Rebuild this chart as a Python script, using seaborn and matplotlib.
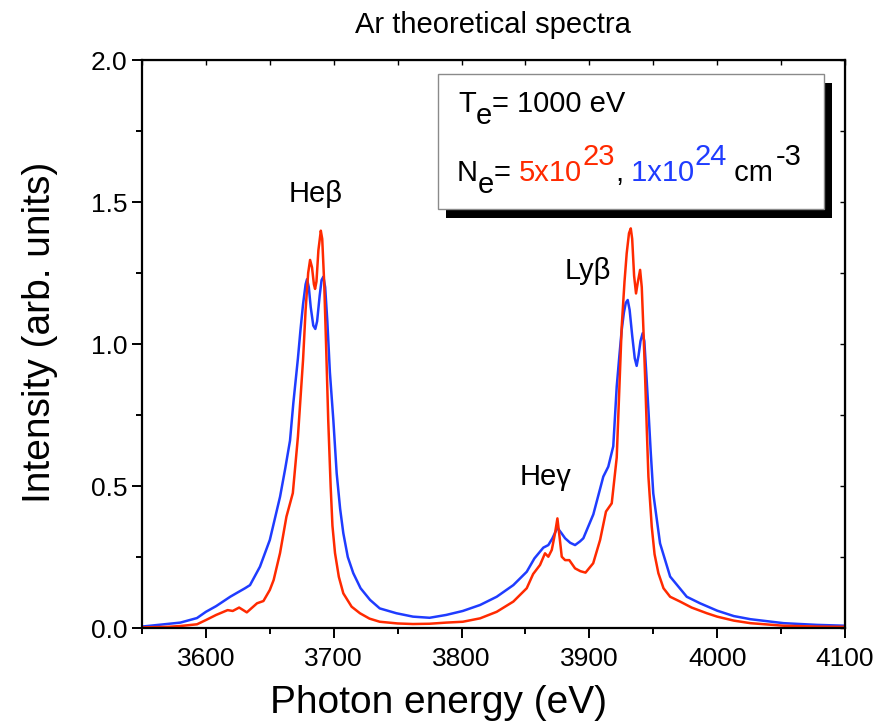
import numpy as np
import pandas as pd
import matplotlib
matplotlib.use('Agg')
import matplotlib.pyplot as plt
from matplotlib.patches import Rectangle
from matplotlib.ticker import MultipleLocator, FormatStrFormatter
import seaborn as sns

# spectrum for Ne = 5x10^23 cm^-3 (red)
energy_5e23 = [3550, 3570, 3580, 3593, 3600, 3608, 3617, 3621, 3626, 3632, 3640, 3645,
               3650, 3653, 3658, 3663, 3668, 3672, 3676, 3678, 3680, 3681.5, 3683,
               3684.5, 3685.4, 3686.5, 3688, 3689.9, 3691, 3692.5, 3694, 3695.7, 3697.6,
               3699, 3701, 3704, 3707.5, 3714, 3720.5, 3728, 3736, 3750, 3762, 3775,
               3788, 3801, 3814.5, 3827.5, 3840.5, 3851, 3856, 3861.4, 3865.3, 3867.9,
               3870.6, 3873, 3875, 3876.7, 3878.4, 3881, 3884.3, 3888.8, 3893, 3897,
               3903, 3908.4, 3913, 3917.5, 3921.4, 3925.3, 3927.5, 3929.2, 3931, 3932.4,
               3933.5, 3935, 3936.5, 3938, 3939.7, 3941, 3942.3, 3943.6, 3945, 3946.2,
               3948.8, 3951, 3954, 3958, 3963.2, 3971, 3980, 3991.9, 4000, 4013, 4026,
               4052, 4078, 4100]
intensity_5e23 = [0.002, 0.004, 0.007, 0.013, 0.028, 0.046, 0.063, 0.060, 0.072, 0.055,
                  0.087, 0.095, 0.134, 0.169, 0.264, 0.392, 0.475, 0.674, 0.944, 1.12,
                  1.25, 1.296, 1.27, 1.21, 1.194, 1.22, 1.33, 1.399, 1.37, 1.22, 1.00,
                  0.732, 0.498, 0.36, 0.264, 0.18, 0.122, 0.075, 0.052, 0.033, 0.022,
                  0.016, 0.014, 0.015, 0.019, 0.022, 0.034, 0.057, 0.093, 0.14, 0.19,
                  0.222, 0.263, 0.251, 0.275, 0.33, 0.386, 0.32, 0.251, 0.239, 0.239,
                  0.21, 0.200, 0.195, 0.228, 0.31, 0.41, 0.439, 0.60, 1.061, 1.22, 1.319,
                  1.39, 1.407, 1.37, 1.24, 1.178, 1.22, 1.261, 1.20, 1.05, 0.885, 0.69,
                  0.533, 0.357, 0.26, 0.193, 0.14, 0.11, 0.093, 0.072, 0.052, 0.04,
                  0.026, 0.017, 0.008, 0.005, 0.004]

# spectrum for Ne = 1x10^24 cm^-3 (blue)
energy_1e24 = [3550, 3565, 3580, 3593, 3600, 3608, 3619, 3624, 3630.6, 3634.5, 3642.3,
               3650, 3658, 3662, 3665.8, 3668.4, 3672, 3674, 3676, 3678, 3679.1, 3680.5,
               3682, 3684, 3685.6, 3687, 3689, 3690.5, 3691.9, 3693.3, 3695, 3697,
               3699.7, 3702.3, 3705, 3707.5, 3711, 3715.3, 3721, 3728.4, 3736, 3749,
               3762, 3775, 3788, 3801, 3814.5, 3827.5, 3840.5, 3851, 3857, 3864, 3867.9,
               3871, 3875, 3878, 3881, 3885, 3888.8, 3892.7, 3895.3, 3903.1, 3910.9,
               3914.8, 3918.7, 3921.4, 3923.5, 3925.3, 3927, 3928.5, 3930, 3931.5,
               3933.5, 3935.5, 3937, 3938.5, 3940, 3941.7, 3943, 3944.5, 3946.2, 3948,
               3950, 3955.3, 3963.2, 3976.2, 3986.6, 4000, 4013, 4026, 4052, 4078, 4100]
intensity_1e24 = [0.005, 0.012, 0.019, 0.035, 0.057, 0.077, 0.110, 0.123, 0.140, 0.151,
                  0.216, 0.31, 0.462, 0.56, 0.66, 0.792, 0.95, 1.05, 1.14, 1.21, 1.228,
                  1.20, 1.13, 1.065, 1.053, 1.08, 1.17, 1.225, 1.237, 1.20, 1.08, 0.90,
                  0.732, 0.545, 0.42, 0.334, 0.25, 0.193, 0.14, 0.099, 0.069, 0.052,
                  0.040, 0.036, 0.046, 0.060, 0.081, 0.110, 0.151, 0.198, 0.245, 0.283,
                  0.292, 0.315, 0.353, 0.335, 0.316, 0.300, 0.292, 0.305, 0.316, 0.40,
                  0.533, 0.568, 0.64, 0.85, 0.96, 1.049, 1.11, 1.145, 1.155, 1.12, 1.03,
                  0.95, 0.923, 0.96, 1.01, 1.038, 1.01, 0.90, 0.768, 0.62, 0.474, 0.298,
                  0.181, 0.11, 0.087, 0.061, 0.042, 0.031, 0.017, 0.011, 0.008]

line_labels = ['Heβ', 'Heγ', 'Lyβ']
line_pos = [(3686, 1.50), (3866, 0.503), (3899, 1.229)]

red = '#ff2a00'
blue = '#1f3cff'

sns.set_style('ticks')
plt.rcParams['font.family'] = ['Liberation Sans', 'DejaVu Sans']
plt.rcParams['text.color'] = 'black'
plt.rcParams['axes.labelcolor'] = 'black'
plt.rcParams['xtick.color'] = 'black'
plt.rcParams['ytick.color'] = 'black'

df_red = pd.DataFrame({'E': energy_5e23, 'I': intensity_5e23})
df_blue = pd.DataFrame({'E': energy_1e24, 'I': intensity_1e24})

W, H = 892, 727
fig = plt.figure(figsize=(W / 100, H / 100), dpi=100)
ax = fig.add_axes([142 / W, 1 - 628 / H, 703 / W, 568 / H])

sns.lineplot(data=df_blue, x='E', y='I', color=blue, lw=1.8, sort=False,
             estimator=None, ax=ax)
sns.lineplot(data=df_red, x='E', y='I', color=red, lw=1.8, sort=False,
             estimator=None, ax=ax)

ax.set_xlim(3550, 4100)
ax.set_ylim(0, 2.0)
ax.xaxis.set_major_locator(MultipleLocator(100))
ax.xaxis.set_minor_locator(MultipleLocator(50))
ax.yaxis.set_major_locator(MultipleLocator(0.5))
ax.yaxis.set_minor_locator(MultipleLocator(0.25))
ax.yaxis.set_major_formatter(FormatStrFormatter('%.1f'))
ax.tick_params(which='major', direction='out', length=7.5, width=1.4, labelsize=19,
               pad=3)
ax.tick_params(which='minor', direction='out', length=4.5, width=1.4)
ax.tick_params(axis='x', which='major', pad=6)
for s in ax.spines.values():
    s.set_linewidth(1.6)
    s.set_color('black')

# inward ticks on top and right spines
top = ax.secondary_xaxis('top')
top.xaxis.set_major_locator(MultipleLocator(100))
top.xaxis.set_minor_locator(MultipleLocator(50))
top.tick_params(which='both', direction='in', length=3.5, width=1.0, labeltop=False)
right = ax.secondary_yaxis('right')
right.yaxis.set_major_locator(MultipleLocator(0.5))
right.yaxis.set_minor_locator(MultipleLocator(0.25))
right.tick_params(which='both', direction='in', length=3.5, width=1.0, labelright=False)

ax.set_xlabel('')
ax.set_ylabel('')
fig.text(438 / W, 1 - 713 / H, 'Photon energy (eV)', fontsize=28, ha='center',
         va='baseline')
fig.text(40 / W, 1 - 332 / H, 'Intensity (arb. units)', fontsize=28, ha='center',
         va='center', rotation=90)
fig.text(493 / W, 1 - 33 / H, 'Ar theoretical spectra', fontsize=21, ha='center',
         va='baseline')

for lab, (x, y) in zip(line_labels, line_pos):
    ax.text(x, y, lab, fontsize=21, ha='center', va='baseline')

# parameter box with drop shadow
ax.add_patch(Rectangle(((446 - 142) / 703, (628 - 218) / 568), 386 / 703, 135 / 568,
                       transform=ax.transAxes, facecolor='black', edgecolor='none',
                       zorder=4, clip_on=False))
ax.add_patch(Rectangle(((438 - 142) / 703, (628 - 209) / 568), 386 / 703, 135 / 568,
                       transform=ax.transAxes, facecolor='white', edgecolor='#8a8a8a',
                       lw=1.0, zorder=5, clip_on=False))


def chain(pieces, x0, y0):
    # pieces: (text, colour, rise in points, gap in points)
    first = pieces[0]
    prev = ax.text(x0, y0, first[0], transform=ax.transAxes, fontsize=21,
                   va='baseline', color=first[1], zorder=6)
    for txt, col, rise, gap in pieces[1:]:
        prev = ax.annotate(txt, xy=(1, y0), xycoords=(prev, 'axes fraction'),
                           xytext=(gap, rise), textcoords='offset points',
                           fontsize=21, va='baseline', ha='left', color=col, zorder=6)
    return prev


chain([('T', 'black', 0, 0), ('e', 'black', -8.5, 0), ('= 1000 eV', 'black', 0, 0)],
      (458 - 142) / 703, (628 - 111.7) / 568)
chain([('N', 'black', 0, 0), ('e', 'black', -8.5, 0), ('= ', 'black', 0, 0),
       ('5x10', red, 0, 0), ('23', red, 11.5, 0), (',', 'black', 0, 0),
       (' 1x10', blue, 0, 0), ('24', blue, 11.5, 0), (' cm', 'black', 0, 0),
       ('-3', 'black', 11.5, 1.5)],
      (457 - 142) / 703, (628 - 181) / 568)

fig.savefig('out.png', dpi=100)
